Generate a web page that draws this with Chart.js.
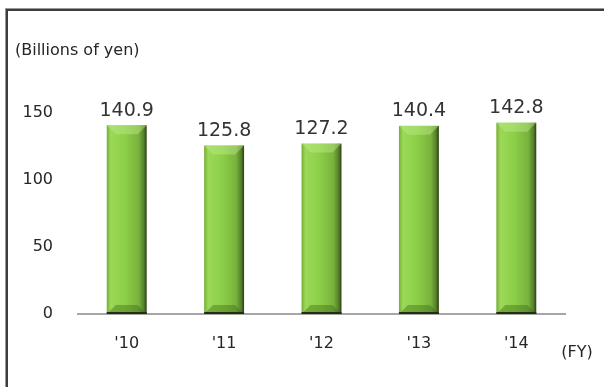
<!DOCTYPE html>
<html>
<head>
<meta charset="utf-8">
<script src="https://cdn.jsdelivr.net/npm/chart.js@4"></script>
<style>
    html, body { margin: 0; padding: 0; background: #fff; overflow: hidden; }
    #wrap { position: relative; width: 604px; height: 387px; }
    #frame {
        position: absolute; left: 6px; top: 9px; width: 700px; height: 500px;
        border-left: 2px solid #3c3c3c; border-top: 2px solid #3c3c3c;
        box-shadow: -1px -1px 0 #999;
    }
    canvas { position: absolute; left: 0; top: 0; }
</style>
</head>
<body>
<div id="wrap">
    <div id="frame"></div>
    <canvas id="myChart" width="604" height="387"></canvas>
</div>
<script>
const years = ["'10", "'11", "'12", "'13", "'14"]
const sales = [140.9, 125.8, 127.2, 140.4, 142.8]
const y_ticks = [0, 50, 100, 150]
const unit_label = '(Billions of yen)'
const fy_label = '(FY)'

const font_family = '"DejaVu Sans", Verdana, sans-serif'
const text_color = '#262626'

// bevelled green bars + value labels on top
const bar_style = {
    id: 'bar_style',
    afterDatasetsDraw(chart) {
        const ctx = chart.ctx
        const meta = chart.getDatasetMeta(0)
        meta.data.forEach((bar, i) => {
            const w = bar.width
            const left = bar.x - w / 2
            const top = bar.y
            const bottom = bar.base
            const g = ctx.createLinearGradient(left, 0, left + w, 0)
            g.addColorStop(0, '#76ad38')
            g.addColorStop(0.1, '#9bd957')
            g.addColorStop(0.45, '#8dcf48')
            g.addColorStop(0.8, '#78b23c')
            g.addColorStop(0.93, '#557f2a')
            g.addColorStop(1, '#283f12')
            ctx.save()
            ctx.fillStyle = g
            ctx.fillRect(left, top, w, bottom - top)
            // top bevel
            const bev = 9
            ctx.fillStyle = 'rgba(190, 235, 140, 0.45)'
            ctx.beginPath()
            ctx.moveTo(left, top)
            ctx.lineTo(left + w, top)
            ctx.lineTo(left + w - bev, top + bev)
            ctx.lineTo(left + bev, top + bev)
            ctx.closePath()
            ctx.fill()
            // bottom bevel
            ctx.fillStyle = 'rgba(60, 100, 25, 0.4)'
            ctx.beginPath()
            ctx.moveTo(left, bottom)
            ctx.lineTo(left + w, bottom)
            ctx.lineTo(left + w - bev, bottom - bev)
            ctx.lineTo(left + bev, bottom - bev)
            ctx.closePath()
            ctx.fill()
            ctx.fillStyle = '#1f3010'
            ctx.fillRect(left, bottom - 2, w, 2)
            // value label
            ctx.fillStyle = '#333333'
            ctx.font = '19px ' + font_family
            ctx.textAlign = 'center'
            ctx.textBaseline = 'bottom'
            ctx.fillText(sales[i].toFixed(1), bar.x, top - 5)
            ctx.restore()
        })
    },
    afterDraw(chart) {
        const ctx = chart.ctx
        ctx.save()
        ctx.fillStyle = text_color
        ctx.font = '16px ' + font_family
        ctx.textAlign = 'left'
        ctx.textBaseline = 'middle'
        ctx.fillText(unit_label, 15, 51)
        ctx.textAlign = 'center'
        ctx.fillText(fy_label, 577, 353)
        ctx.restore()
    }
}

const ctx = document.getElementById('myChart')
const myChart = new Chart(ctx, {
    type: 'bar',
    data: {
        labels: years,
        datasets: [{
            data: sales,
            backgroundColor: 'rgba(0,0,0,0)',
            borderWidth: 0,
            barPercentage: 1,
            categoryPercentage: 0.41
        }]
    },
    options: {
        responsive: false,
        animation: false,
        layout: {
            padding: { left: 0, right: 39, top: 113, bottom: 0 }
        },
        scales: {
            x: {
                grid: { display: false, drawTicks: false },
                border: { display: true, color: '#a6a6a6', width: 2 },
                ticks: {
                    color: text_color,
                    font: { family: font_family, size: 16 },
                    padding: 20
                },
                afterFit: (scale) => { scale.height = 73 }
            },
            y: {
                min: 0,
                max: 150,
                grid: { display: false, drawTicks: false },
                border: { display: false },
                afterBuildTicks: (scale) => {
                    scale.ticks = y_ticks.map((v) => ({ value: v }))
                },
                ticks: {
                    color: text_color,
                    font: { family: font_family, size: 16 },
                    padding: 25
                },
                afterFit: (scale) => { scale.width = 78 }
            }
        },
        plugins: {
            legend: { display: false },
            tooltip: { enabled: false }
        }
    },
    plugins: [bar_style]
})
</script>
</body>
</html>
